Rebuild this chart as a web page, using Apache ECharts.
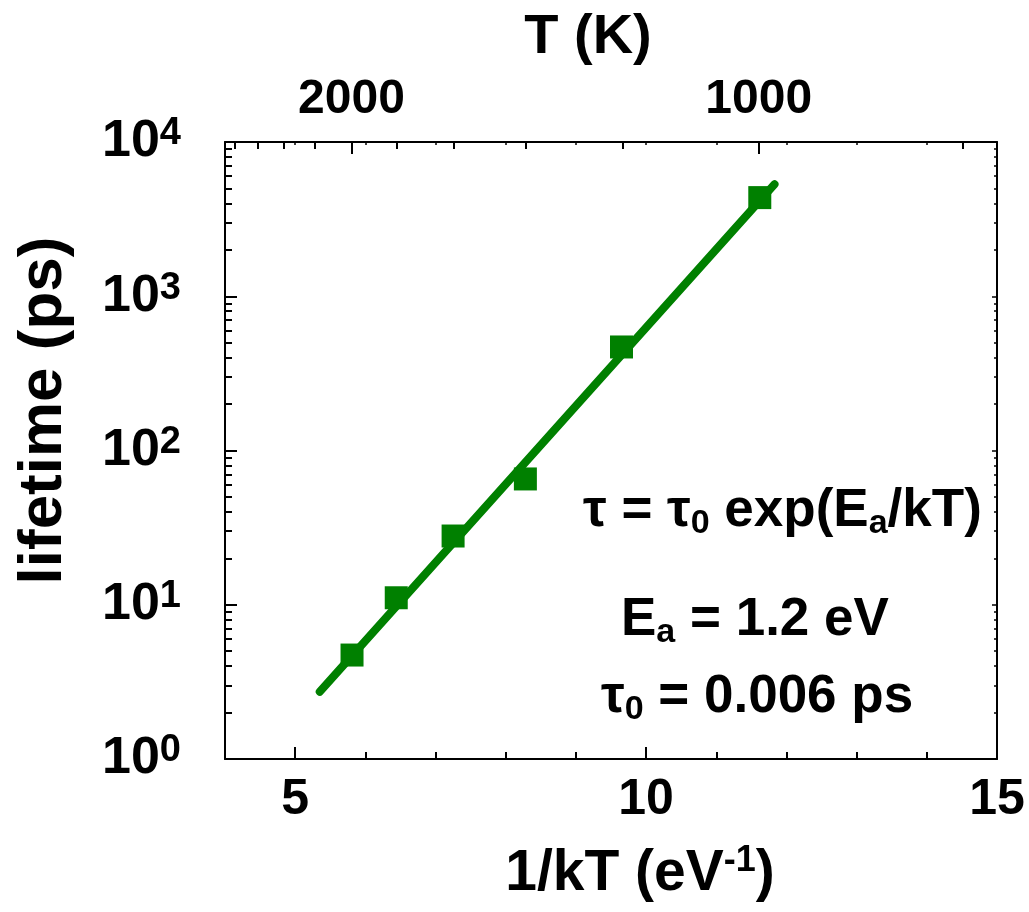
<!DOCTYPE html>
<html>
<head>
<meta charset="utf-8">
<script src="https://cdn.jsdelivr.net/npm/echarts@6/dist/echarts.min.js"></script>
<style>
  html, body { margin: 0; padding: 0; background: #fff; }
  #chart { width: 1029px; height: 912px; }
</style>
</head>
<body>
<div id="chart"></div>
<script>
// measured points: 1/kT (eV^-1) vs lifetime (ps)
const invKT = [5.81, 6.44, 7.25, 8.28, 9.65, 11.62]
const lifetime = [4.72, 11.1, 27.9, 65.4, 469, 4360]

// fitted line tau = tau0 exp(Ea/kT), end points
const fitX = [5.35, 11.83]
const fitY = [2.73, 5320]

// axis ticks
const xMajor = [5, 10, 15]
const xMinor = [6, 7, 8, 9, 11, 12, 13, 14]
const xAll = [4, 5, 6, 7, 8, 9, 10, 11, 12, 13, 14, 15]
const yMajor = [1, 10, 100, 1000, 10000]
const yMinor = [2, 3, 4, 5, 6, 7, 8, 9, 20, 30, 40, 50, 60, 70, 80, 90,
  200, 300, 400, 500, 600, 700, 800, 900, 2000, 3000, 4000, 5000, 6000, 7000, 8000, 9000]
const tLabels = [2000, 1000]
const tTicks = [2800, 2600, 2400, 2200, 1800, 1600, 1400, 1200, 800]

const kB = 8.617e-5 // eV/K
const toInvKT = (t) => 1 / (kB * t)

const FONT = '"Liberation Sans", Arial, sans-serif'
const GREEN = '#008000'

const chart = echarts.init(document.getElementById('chart'))

function xAx(extra) {
  return Object.assign({
    type: 'value', min: 4, max: 15, gridIndex: 0,
    splitLine: { show: false },
    axisLine: { show: false },
    axisLabel: { show: false },
  }, extra)
}

function yAx(extra) {
  return Object.assign({
    type: 'log', logBase: 10, min: 1, max: 10000, gridIndex: 0,
    splitLine: { show: false },
    axisLine: { show: false },
    axisLabel: { show: false },
  }, extra)
}

const lineBlack = { show: true, onZero: false, lineStyle: { color: '#000', width: 2 } }

// rich styles for the formula block
const richNote = {
  m: { font: 'bold 53px ' + FONT, fill: '#000', lineHeight: 60 },
  s: { font: 'bold 34px ' + FONT, fill: '#000', verticalAlign: 'bottom', lineHeight: 20 },
}

const option = {
  animation: false,
  backgroundColor: '#fff',
  textStyle: { fontFamily: FONT },
  grid: { left: 225, right: 32, top: 142, bottom: 153 },
  xAxis: [
    xAx({
      position: 'bottom',
      axisLine: lineBlack,
      axisTick: { inside: true, length: 12, customValues: xMajor, lineStyle: { color: '#000', width: 2 } },
      axisLabel: {
        show: true, customValues: xMajor, margin: 16,
        fontFamily: FONT, fontWeight: 'bold', fontSize: 50, color: '#000',
      },
      name: '{m|1/kT (eV}{s|-1}{m|)}',
      nameLocation: 'middle',
      nameGap: 84,
      nameTextStyle: {
        padding: [0, 0, 0, 58],
        rich: {
          m: { fontFamily: FONT, fontWeight: 'bold', fontSize: 57, color: '#000', lineHeight: 62 },
          s: { fontFamily: FONT, fontWeight: 'bold', fontSize: 36, color: '#000', verticalAlign: 'top', lineHeight: 24 },
        },
      },
    }),
    xAx({
      position: 'bottom',
      axisTick: { inside: true, length: 7, customValues: xMinor, lineStyle: { color: '#000', width: 2 } },
    }),
    xAx({
      position: 'top',
      axisLine: lineBlack,
      axisTick: { inside: true, length: 3, customValues: xAll, lineStyle: { color: '#000', width: 1.5 } },
    }),
    xAx({
      position: 'top',
      axisTick: { inside: true, length: 7, customValues: tTicks.map(toInvKT), lineStyle: { color: '#000', width: 2 } },
    }),
    xAx({
      position: 'top',
      axisTick: { inside: true, length: 12, customValues: tLabels.map(toInvKT), lineStyle: { color: '#000', width: 2 } },
      axisLabel: {
        show: true, customValues: tLabels.map(toInvKT), margin: 18,
        fontFamily: FONT, fontWeight: 'bold', fontSize: 48, color: '#000',
        formatter: (v) => String(Math.round(1 / (kB * v) / 100) * 100),
      },
    }),
  ],
  yAxis: [
    yAx({
      position: 'left',
      axisLine: lineBlack,
      axisTick: { inside: true, length: 12, customValues: yMajor, lineStyle: { color: '#000', width: 2 } },
      axisLabel: {
        show: true, customValues: yMajor, margin: 44,
        formatter: (v) => '{n|10}{s|' + Math.round(Math.log10(v)) + '}',
        rich: {
          n: { fontFamily: FONT, fontWeight: 'bold', fontSize: 52, color: '#000', lineHeight: 54 },
          s: { fontFamily: FONT, fontWeight: 'bold', fontSize: 38, color: '#000', verticalAlign: 'top', lineHeight: 22 },
        },
      },
      name: 'lifetime (ps)',
      nameLocation: 'middle',
      nameGap: 150,
      nameTextStyle: {
        fontFamily: FONT, fontWeight: 'bold', fontSize: 62, color: '#000',
        padding: [0, 0, 0, 80],
      },
    }),
    yAx({
      position: 'left',
      axisTick: { inside: true, length: 7, customValues: yMinor, lineStyle: { color: '#000', width: 2 } },
    }),
    yAx({
      position: 'right',
      axisLine: lineBlack,
      axisTick: { inside: true, length: 5, customValues: yMajor, lineStyle: { color: '#000', width: 1.5 } },
    }),
    yAx({
      position: 'right',
      axisTick: { inside: true, length: 3, customValues: yMinor, lineStyle: { color: '#000', width: 1.5 } },
    }),
  ],
  graphic: [
    {
      type: 'text', x: 588, y: 38,
      style: { text: 'T (K)', font: 'bold 56px ' + FONT, fill: '#000', align: 'center', verticalAlign: 'middle' },
    },
    {
      type: 'text', x: 583, y: 511,
      style: { text: '{m|τ = τ}{s|0}{m| exp(E}{s|a}{m|/kT)}', verticalAlign: 'middle', rich: richNote },
    },
    {
      type: 'text', x: 621, y: 620,
      style: { text: '{m|E}{s|a}{m| = 1.2 eV}', verticalAlign: 'middle', rich: richNote },
    },
    {
      type: 'text', x: 601, y: 697,
      style: { text: '{m|τ}{s|0}{m| = 0.006 ps}', verticalAlign: 'middle', rich: richNote },
    },
  ],
  series: [
    {
      name: 'fit',
      type: 'line',
      xAxisIndex: 0,
      yAxisIndex: 0,
      data: fitX.map((x, i) => [x, fitY[i]]),
      showSymbol: false,
      lineStyle: { color: GREEN, width: 8, cap: 'round' },
      z: 2,
    },
    {
      name: 'lifetime',
      type: 'scatter',
      xAxisIndex: 0,
      yAxisIndex: 0,
      data: invKT.map((x, i) => [x, lifetime[i]]),
      symbol: 'rect',
      symbolSize: 23,
      itemStyle: { color: GREEN, opacity: 1 },
      z: 3,
    },
  ],
}

chart.setOption(option)
</script>
</body>
</html>
